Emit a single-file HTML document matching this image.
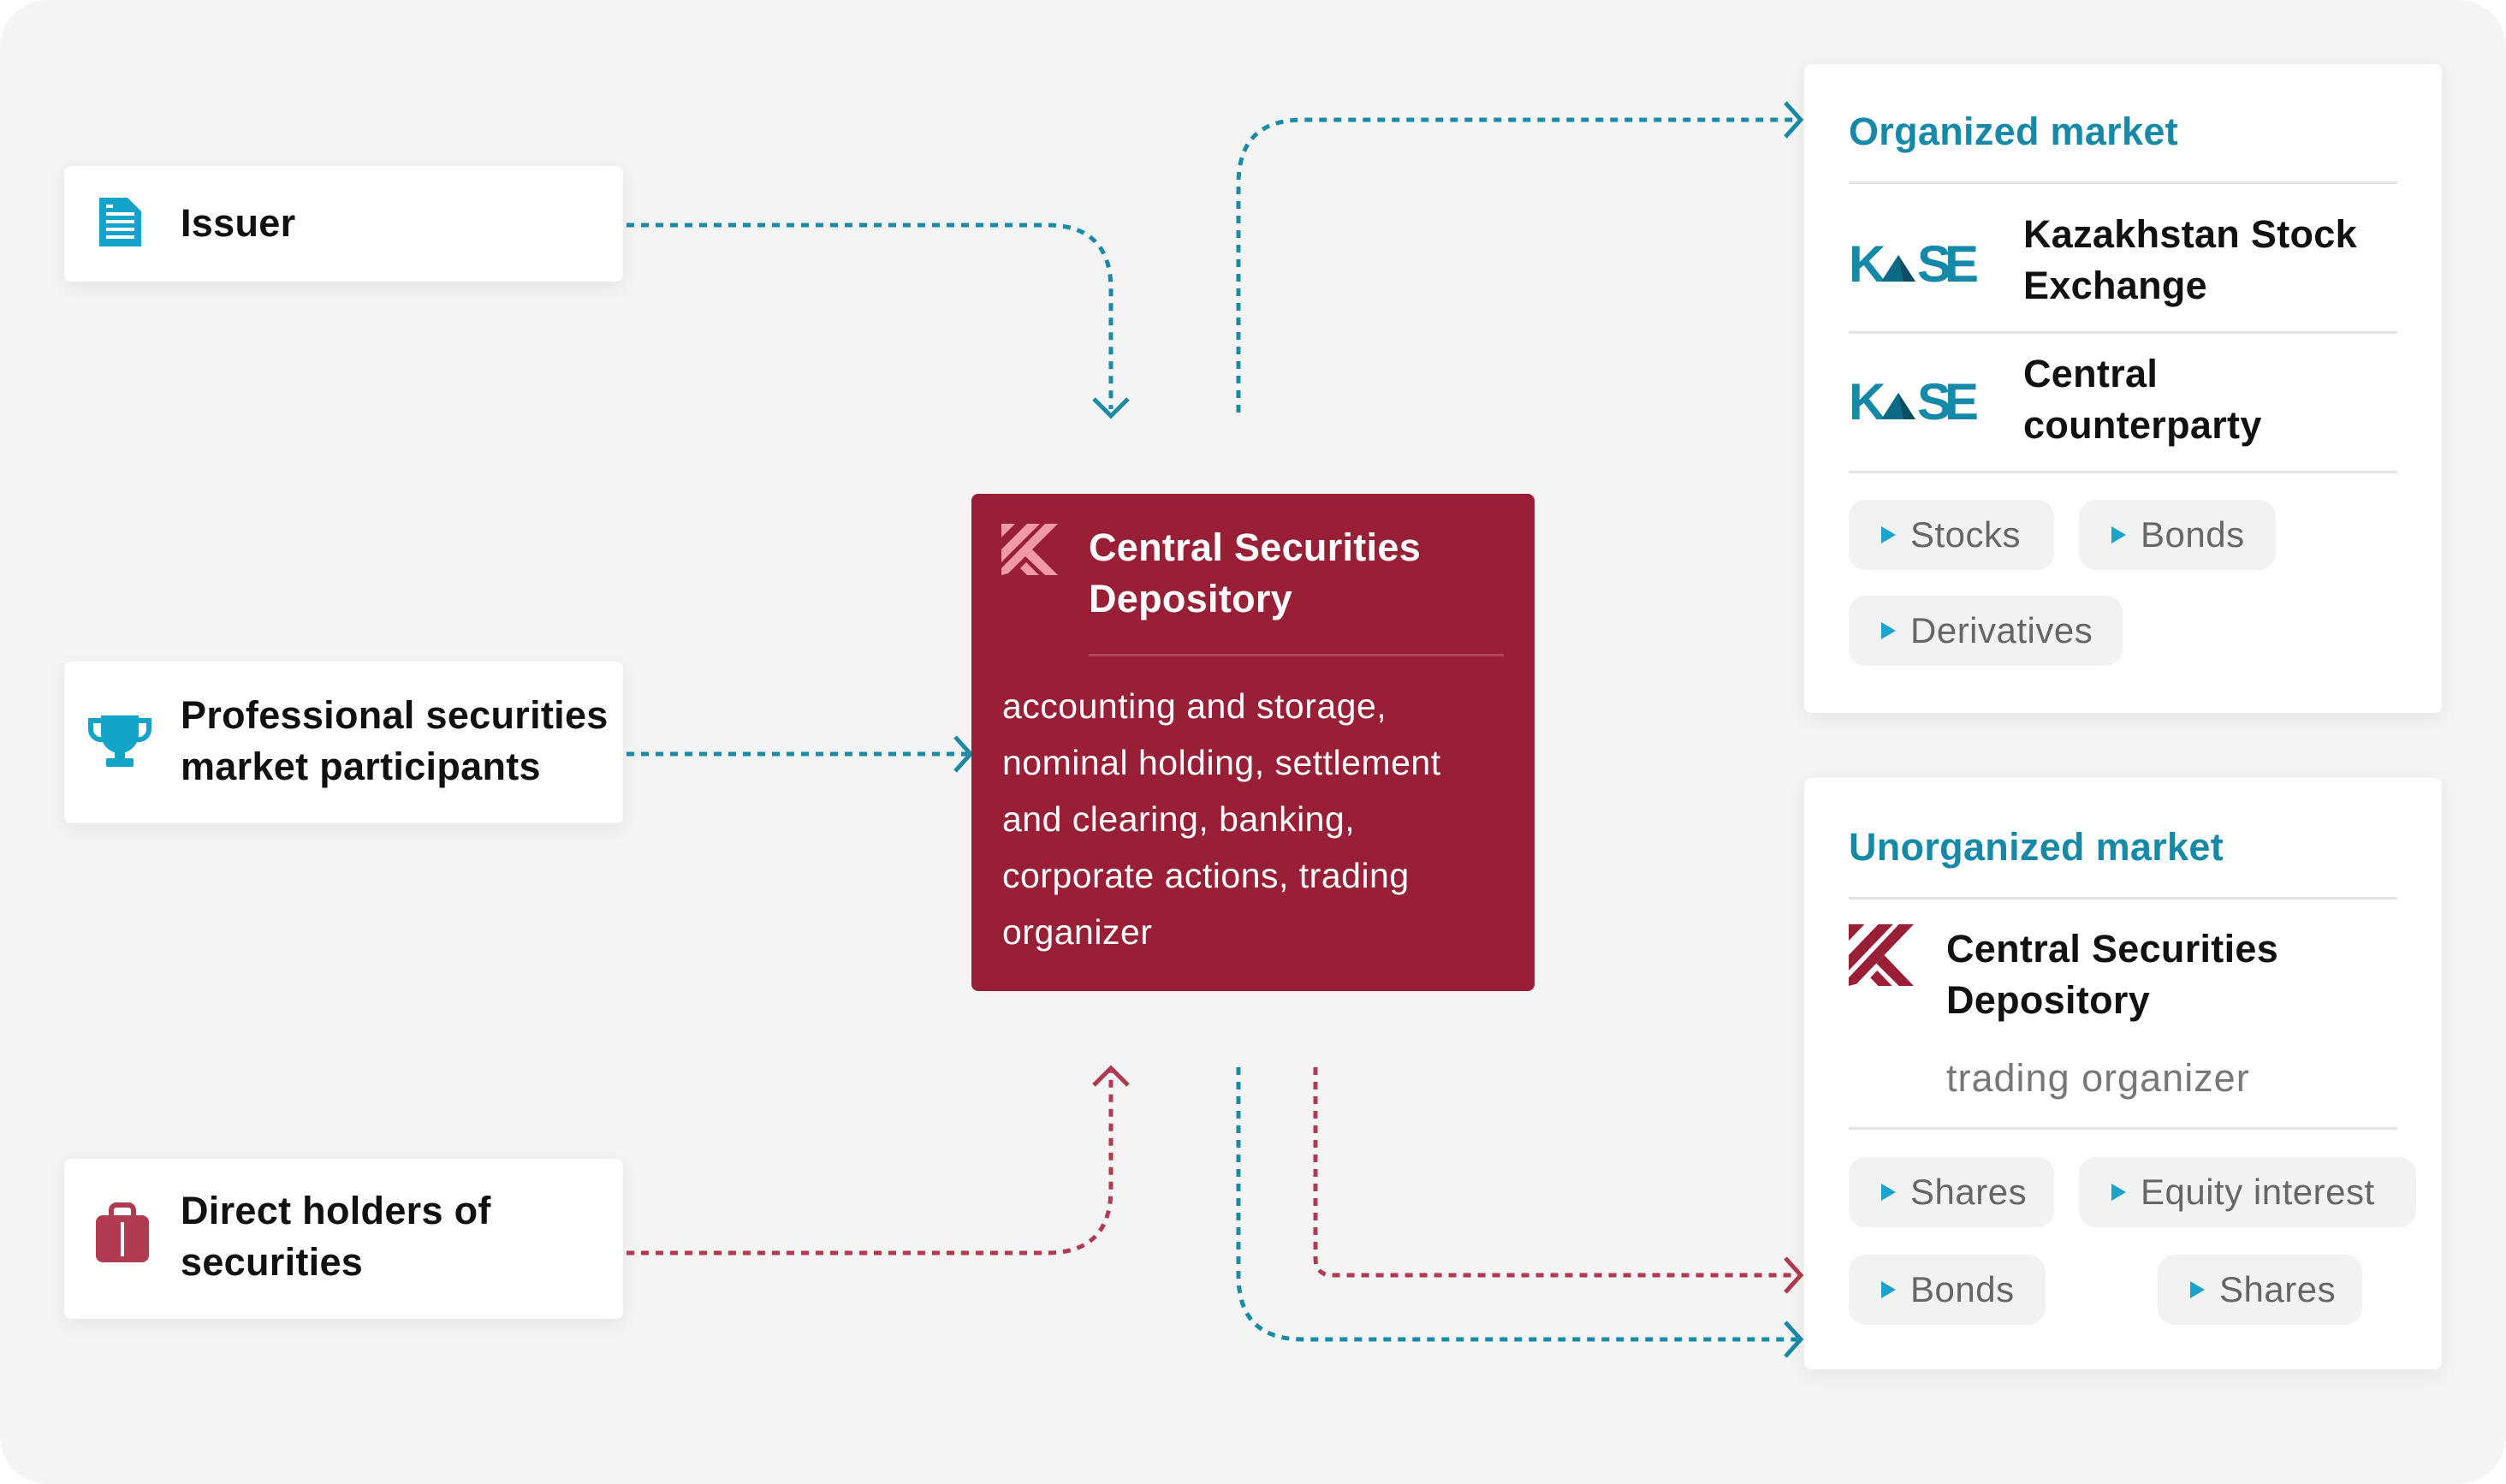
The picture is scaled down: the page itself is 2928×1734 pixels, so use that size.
<!DOCTYPE html>
<html><head><meta charset="utf-8"><style>
*{margin:0;padding:0;box-sizing:border-box}
body{width:2928px;height:1734px;background:#fff;font-family:"Liberation Sans",Arial,sans-serif;position:relative;overflow:hidden}
.bg{position:absolute;left:0;top:0;width:2928px;height:1734px;background:#f4f4f4;border-radius:56px}
.box{position:absolute;background:#fff;border-radius:8px;box-shadow:0 6px 24px rgba(0,0,0,0.07)}
.t{position:absolute;font-size:45px;line-height:60px;color:#111;white-space:nowrap;font-weight:bold;letter-spacing:0.3px}
.chip{position:absolute;background:#f2f2f2;border-radius:20px;font-size:42px;color:#666;line-height:82px;padding-left:72px;height:82px;letter-spacing:0.5px}
.chip:before{content:"";position:absolute;left:38px;top:31px;border-left:17px solid #1aa3cc;border-top:10px solid transparent;border-bottom:10px solid transparent}
.hr{position:absolute;height:3px;background:#e4e4e4}
</style></head><body>
<div class="bg"></div>

<div class="box" style="left:75px;top:194px;width:653px;height:135px"></div>
<div class="box" style="left:75px;top:773px;width:653px;height:189px"></div>
<div class="box" style="left:75px;top:1354px;width:653px;height:187px"></div>

<svg style="position:absolute;left:0;top:0" width="2928" height="1734">
<path d="M116 231 h33 l16 16 v41 h-49 z" fill="#11a3c8"/>
<rect x="124" y="248" width="33" height="4" fill="#fff"/><rect x="124" y="257" width="33" height="4" fill="#fff"/><rect x="124" y="266" width="33" height="4" fill="#fff"/><rect x="124" y="275" width="33" height="4" fill="#fff"/><rect x="124" y="239" width="8" height="4" fill="#fff"/>
<path d="M118 836 h44 v22 a22 22 0 0 1 -44 0 z" fill="#11a3c8"/>
<path d="M118 842 h-12 v10 a12 12 0 0 0 14 12 M162 842 h12 v10 a12 12 0 0 1 -14 12" fill="none" stroke="#11a3c8" stroke-width="6"/>
<rect x="134" y="878" width="12" height="10" fill="#11a3c8"/><rect x="124" y="886" width="32" height="10" rx="2" fill="#11a3c8"/>
<path d="M130 1422 v-8 a6 6 0 0 1 6 -6 h14 a6 6 0 0 1 6 6 v8" fill="none" stroke="#b03a4f" stroke-width="6"/>
<rect x="112" y="1420" width="62" height="55" rx="8" fill="#b03a4f"/>
<rect x="141" y="1428" width="4" height="40" fill="#fff"/>

<g fill="none" stroke-width="5" stroke-dasharray="9 8">
<path d="M732 263 H1223 Q1298 263 1298 338 V478" stroke="#1a8aa6"/>
<path d="M1447 482 V215 Q1447 140 1522 140 H2100" stroke="#1a8aa6"/>
<path d="M732 881 H1130" stroke="#1a8aa6"/>
<path d="M732 1464 H1223 Q1298 1464 1298 1389 V1252" stroke="#b03a4f"/>
<path d="M1447 1247 V1490 Q1447 1565 1522 1565 H2100" stroke="#1a8aa6"/>
<path d="M1537 1247 V1470 Q1537 1490 1557 1490 H2100" stroke="#b03a4f"/>
</g>
<g fill="none" stroke-width="5">
<path d="M1278 466 L1298 486 L1318 466" stroke="#1a8aa6"/>
<path d="M2086 120 L2104 140 L2086 160" stroke="#1a8aa6"/>
<path d="M1116 861 L1134 881 L1116 901" stroke="#1a8aa6"/>
<path d="M1278 1268 L1298 1248 L1318 1268" stroke="#b03a4f"/>
<path d="M2086 1545 L2104 1565 L2086 1585" stroke="#1a8aa6"/>
<path d="M2086 1470 L2104 1490 L2086 1510" stroke="#b03a4f"/>
</g>
</svg>

<div class="t" style="left:211px;top:231px">Issuer</div>
<div class="t" style="left:211px;top:806px">Professional securities<br>market participants</div>
<div class="t" style="left:211px;top:1385px">Direct holders of<br>securities</div>

<div style="position:absolute;left:1135px;top:577px;width:658px;height:581px;background:#981f36;border-radius:8px"></div>
<svg style="position:absolute;left:1170px;top:612px" width="66" height="60" viewBox="0 0 66 60"><g fill="#f09aa8">
<polygon points="0,0 16,0 0,16"/><polygon points="30,0 45,0 0,45 0,30"/><polygon points="51,0 66,0 8,58 0,60 0,52"/><polygon points="28,38 36,30 66,60 51,60"/><polygon points="22,52 29,45 44,60 30,60"/></g></svg>
<div class="t" style="left:1272px;top:610px;color:#fff">Central Securities<br>Depository</div>
<div style="position:absolute;left:1272px;top:764px;width:485px;height:3px;background:#b04458"></div>
<div style="position:absolute;left:1171px;top:792px;font-size:41px;line-height:66px;color:#fff;white-space:nowrap;letter-spacing:0.5px">accounting and storage,<br>nominal holding, settlement<br>and clearing, banking,<br>corporate actions, trading<br>organizer</div>

<div class="box" style="left:2108px;top:75px;width:745px;height:758px"></div>
<div class="t" style="left:2160px;top:124px;color:#1589a7">Organized market</div>
<div class="hr" style="left:2160px;top:212px;width:641px"></div>
<svg style="position:absolute;left:2160px;top:276px" width="155" height="58"><text x="0" y="53" font-family="Liberation Sans" font-weight="bold" font-size="60" fill="#1589a7">K</text><text x="80" y="53" font-family="Liberation Sans" font-weight="bold" font-size="60" fill="#1589a7" textLength="72" lengthAdjust="spacing">SE</text><polygon points="38,53 58,22 78,53" fill="#0b6a86"/><polygon points="58,22 78,53 64,53" fill="#0b4d62"/></svg>
<div class="t" style="left:2364px;top:244px">Kazakhstan Stock<br>Exchange</div>
<div class="hr" style="left:2160px;top:387px;width:641px"></div>
<svg style="position:absolute;left:2160px;top:437px" width="155" height="58"><text x="0" y="53" font-family="Liberation Sans" font-weight="bold" font-size="60" fill="#1589a7">K</text><text x="80" y="53" font-family="Liberation Sans" font-weight="bold" font-size="60" fill="#1589a7" textLength="72" lengthAdjust="spacing">SE</text><polygon points="38,53 58,22 78,53" fill="#0b6a86"/><polygon points="58,22 78,53 64,53" fill="#0b4d62"/></svg>
<div class="t" style="left:2364px;top:407px">Central<br>counterparty</div>
<div class="hr" style="left:2160px;top:550px;width:641px"></div>
<div class="chip" style="left:2160px;top:584px;width:240px">Stocks</div>
<div class="chip" style="left:2429px;top:584px;width:230px">Bonds</div>
<div class="chip" style="left:2160px;top:696px;width:320px">Derivatives</div>

<div class="box" style="left:2108px;top:909px;width:745px;height:691px"></div>
<div class="t" style="left:2160px;top:960px;color:#1589a7">Unorganized market</div>
<div class="hr" style="left:2160px;top:1048px;width:641px"></div>
<svg style="position:absolute;left:2160px;top:1080px" width="76" height="72" viewBox="0 0 66 60" preserveAspectRatio="none"><g fill="#981f36">
<polygon points="0,0 16,0 0,16"/><polygon points="30,0 45,0 0,45 0,30"/><polygon points="51,0 66,0 8,58 0,60 0,52"/><polygon points="28,38 36,30 66,60 51,60"/><polygon points="22,52 29,45 44,60 30,60"/></g></svg>
<div class="t" style="left:2274px;top:1079px">Central Securities<br>Depository</div>
<div class="t" style="left:2274px;top:1230px;color:#777;font-weight:normal;letter-spacing:1px">trading organizer</div>
<div class="hr" style="left:2160px;top:1317px;width:641px"></div>
<div class="chip" style="left:2160px;top:1352px;width:240px">Shares</div>
<div class="chip" style="left:2429px;top:1352px;width:394px">Equity interest</div>
<div class="chip" style="left:2160px;top:1466px;width:230px">Bonds</div>
<div class="chip" style="left:2521px;top:1466px;width:239px">Shares</div>
</body></html>
